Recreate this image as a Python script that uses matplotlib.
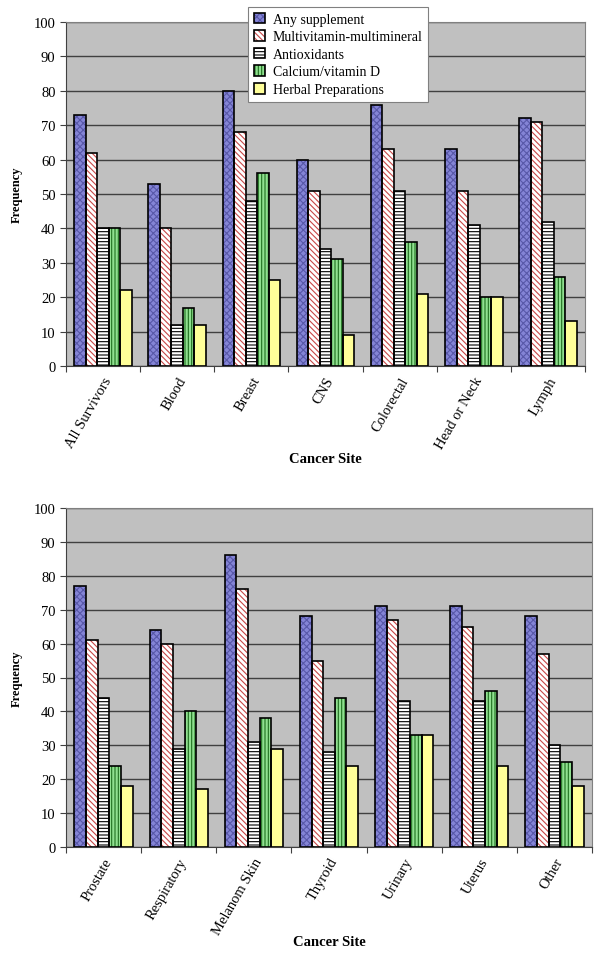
import matplotlib
matplotlib.use("Agg")
import matplotlib.pyplot as plt
import numpy as np
from matplotlib.patches import Patch
from matplotlib.legend_handler import HandlerTuple

plt.rcParams['font.family'] = ['Liberation Serif', 'DejaVu Serif']
plt.rcParams['hatch.linewidth'] = 0.8

series = ["Any supplement", "Multivitamin-multimineral", "Antioxidants",
          "Calcium/vitamin D", "Herbal Preparations"]

sites_top = ["All Survivors", "Blood", "Breast", "CNS", "Colorectal", "Head or Neck", "Lymph"]
any_top = [73, 53, 80, 60, 76, 63, 72]
multi_top = [62, 40, 68, 51, 63, 51, 71]
anti_top = [40, 12, 48, 34, 51, 41, 42]
calc_top = [40, 17, 56, 31, 36, 20, 26]
herb_top = [22, 12, 25, 9, 21, 20, 13]

sites_bot = ["Prostate", "Respiratory", "Melanom Skin", "Thyroid", "Urinary", "Uterus", "Other"]
any_bot = [77, 64, 86, 68, 71, 71, 68]
multi_bot = [61, 60, 76, 55, 67, 65, 57]
anti_bot = [44, 29, 31, 28, 43, 43, 30]
calc_bot = [24, 40, 38, 44, 33, 46, 25]
herb_bot = [18, 17, 29, 24, 33, 24, 18]

styles = [
    dict(face="#8484d6", hatch="xxxxx", hc="#5858a8"),
    dict(face="#ffffff", hatch="\\\\\\\\\\\\", hc="#c84848"),
    dict(face="#ffffff", hatch="-----", hc="#000000"),
    dict(face="#90e090", hatch="|||||", hc="#207020"),
    dict(face="#ffff99", hatch=None, hc="#000000"),
]

fig = plt.figure(figsize=(6.0, 9.54), dpi=100)

def draw(ax, sites, data):
    n = len(sites)
    x = np.arange(n)
    w = 0.155
    offs = (np.arange(5) - 2) * w
    for i, (vals, st) in enumerate(zip(data, styles)):
        if st["hatch"]:
            ax.bar(x + offs[i], vals, w, color=st["face"], hatch=st["hatch"],
                   edgecolor=st["hc"], linewidth=0, zorder=3)
            ax.bar(x + offs[i], vals, w, fill=False, edgecolor="black", linewidth=1.2, zorder=4)
        else:
            ax.bar(x + offs[i], vals, w, color=st["face"], edgecolor="black", linewidth=1.2, zorder=3)
    ax.set_facecolor("#c0c0c0")
    ax.set_xlim(-0.5, n - 0.5)
    ax.set_ylim(0, 100)
    ax.set_yticks(np.arange(0, 101, 10))
    ax.yaxis.grid(True, color="#404040", linewidth=1.0, zorder=1)
    ax.set_axisbelow(True)
    ax.set_xticks(np.arange(-0.5, n, 1.0))
    ax.set_xticklabels([])
    ax.set_xticks(x, minor=True)
    ax.set_xticklabels(sites, minor=True, rotation=60, ha="right",
                       rotation_mode="anchor", fontsize=10.5)
    ax.tick_params(axis="x", which="minor", length=0, pad=6)
    ax.tick_params(axis="x", which="major", length=4, color="#404040")
    ax.tick_params(axis="y", length=4, labelsize=10.5, color="#404040")
    for s in ["top", "right"]:
        ax.spines[s].set_color("#808080")
    for s in ["left", "bottom"]:
        ax.spines[s].set_color("#404040")
    ax.set_ylabel("Frequency", fontsize=9, fontweight="bold", labelpad=8)
    ax.set_xlabel("Cancer Site", fontsize=10.5, fontweight="bold")

ax1 = fig.add_axes([66/600, 1 - 367/954, (585 - 66)/600, 344/954])
draw(ax1, sites_top, [any_top, multi_top, anti_top, calc_top, herb_top])
ax1.xaxis.set_label_coords(0.5, -0.25)

ax2 = fig.add_axes([66/600, 1 - 848/954, (592 - 66)/600, 339/954])
draw(ax2, sites_bot, [any_bot, multi_bot, anti_bot, calc_bot, herb_bot])
ax2.xaxis.set_label_coords(0.5, -0.26)

handles = []
for st in styles:
    if st["hatch"]:
        h1 = Patch(facecolor=st["face"], hatch=st["hatch"], edgecolor=st["hc"], linewidth=0)
        h2 = Patch(fill=False, edgecolor="black", linewidth=1.2)
        handles.append((h1, h2))
    else:
        handles.append(Patch(facecolor=st["face"], edgecolor="black", linewidth=1.2))
leg = fig.legend(handles, series, loc="upper left",
                 bbox_to_anchor=(248/600, 1 - 8/954), fontsize=10,
                 frameon=True, fancybox=False, framealpha=1, edgecolor="#808080",
                 handlelength=0.8, handleheight=0.8, handletextpad=0.6,
                 labelspacing=0.32, borderpad=0.4, borderaxespad=0,
                 handler_map={tuple: HandlerTuple(ndivide=1, pad=0)})
leg.get_frame().set_linewidth(0.8)

fig.savefig("out.png", dpi=100)
